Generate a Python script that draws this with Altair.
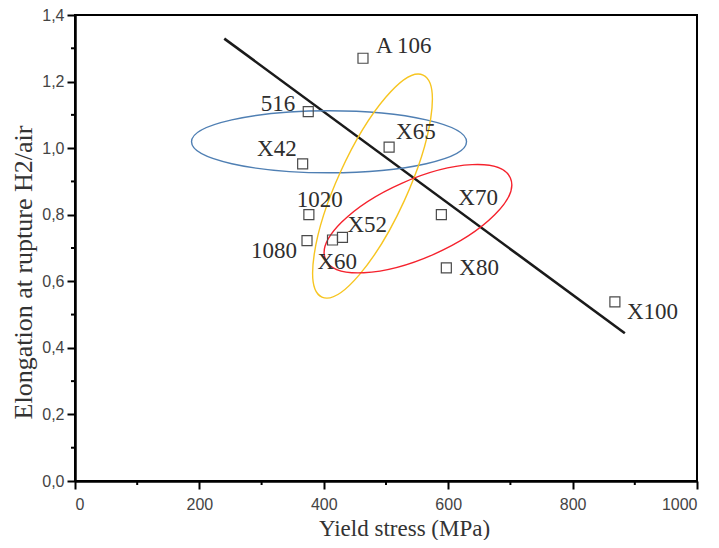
import altair as alt
import pandas as pd

# ---- data ----
labels = ["A 106", "516", "X42", "X65", "1020", "1080", "X60", "X52", "X70", "X80", "X100"]
yield_stress = [463, 375, 366, 505, 376, 373, 414, 430, 589, 597, 868]
elongation = [1.27, 1.11, 0.953, 1.003, 0.80, 0.722, 0.724, 0.732, 0.80, 0.64, 0.538]

trend_x = [240, 884]
trend_y = [1.329, 0.444]

ellipse_names = ["blue", "yellow", "red"]
ellipse_cx = [408.4, 478.3, 551.4]
ellipse_cy = [1.019, 0.886, 0.788]

x_ticks = [0, 200, 400, 600, 800, 1000]
x_minor = [100, 300, 500, 700, 900]
y_ticks = [0.0, 0.2, 0.4, 0.6, 0.8, 1.0, 1.2, 1.4]
y_minor = [0.1, 0.3, 0.5, 0.7, 0.9, 1.1, 1.3]

# ---- styling (label placement, ellipse geometry) ----
label_style = {
    "A 106": ("left", 13, -12),
    "516": ("right", -13, -8),
    "X42": ("right", -6, -15),
    "X65": ("left", 7, -15),
    "1020": ("center", 11, -15),
    "1080": ("right", -10, 10),
    "X60": ("left", -15, 22),
    "X52": ("left", 5, -12),
    "X70": ("left", 17, -17),
    "X80": ("left", 13, 0),
    "X100": ("left", 12, 10),
}


def ellipse_path(rx, ry):
    return (f"M {-rx} 0 A {rx} {ry} 0 1 0 {rx} 0 "
            f"A {rx} {ry} 0 1 0 {-rx} 0 Z")


ellipse_style = {
    "blue": (ellipse_path(137.5, 31), 0, "#4f7fb3"),
    "yellow": (ellipse_path(35, 122), 24.5, "#f7c520"),
    "red": (ellipse_path(101, 39), 336.2, "#f5222d"),
}

W, H = 622, 466
SERIF = "Liberation Serif"

pts = pd.DataFrame({"label": labels, "x": yield_stress, "y": elongation})
trend = pd.DataFrame({"x": trend_x, "y": trend_y})
ell = pd.DataFrame({"name": ellipse_names, "x": ellipse_cx, "y": ellipse_cy})

xscale = alt.Scale(domain=[0, 1000], nice=False, zero=False)
yscale = alt.Scale(domain=[0, 1.4], nice=False, zero=False)

x_axis = alt.Axis(
    values=x_ticks, format="d", title="Yield stress (MPa)",
    titleX=329, titleY=54, titleBaseline="alphabetic", titleAlign="center",
    titleFont=SERIF, titleFontSize=23, labelPadding=7,
)
y_axis = alt.Axis(
    values=y_ticks, labelExpr="replace(format(datum.value, '.1f'), '.', ',')",
    title="Elongation at rupture H2/air", titleFont=SERIF, titleFontSize=26,
    titleX=-52, titleY=257, titleBaseline="middle", titleAlign="center",
    labelPadding=3,
)

X = alt.X("x:Q", scale=xscale, axis=x_axis)
Y = alt.Y("y:Q", scale=yscale, axis=y_axis)

base_pts = alt.Chart(pts)

points = base_pts.mark_point(
    shape="square", size=100, filled=False, stroke="#4a4a4a",
    strokeWidth=1.2, opacity=1,
).encode(x=X, y=Y)

line = alt.Chart(trend).mark_line(color="#1a1a1a", strokeWidth=2.6).encode(x=X, y=Y)

layers = [line]

for name in ellipse_names:
    path, ang, col = ellipse_style[name]
    layers.append(
        alt.Chart(ell).transform_filter(alt.datum.name == name).mark_point(
            shape=path, size=4, angle=ang, filled=False, stroke=col,
            strokeWidth=1.4, opacity=1,
        ).encode(x=X, y=Y)
    )

layers.append(points)

for lab in labels:
    align, dx, dy = label_style[lab]
    layers.append(
        base_pts.transform_filter(alt.datum.label == lab).mark_text(
            align=align, baseline="middle", dx=dx, dy=dy,
            font=SERIF, fontSize=23, color="#2e2e2e",
        ).encode(x=X, y=Y, text="label:N")
    )

minor_x = alt.Chart(pd.DataFrame({"x": x_minor})).mark_rule(
    color="black", strokeWidth=2
).encode(x=X, y=alt.value(H), y2=alt.value(H + 4))
minor_y = alt.Chart(pd.DataFrame({"y": y_minor})).mark_rule(
    color="black", strokeWidth=2
).encode(y=Y, x=alt.value(0), x2=alt.value(-4))
layers += [minor_x, minor_y]

chart = alt.layer(*layers).properties(
    width=W, height=H,
    autosize=alt.AutoSizeParams(type="none"),
    padding={"left": 67, "top": 7, "right": 14, "bottom": 59},
).configure_view(
    stroke="black", strokeWidth=2,
).configure_axis(
    grid=False,
    domainColor="black", domainWidth=2.5,
    tickColor="black", tickWidth=2, tickSize=8,
    labelFont="Liberation Sans", labelFontSize=16, labelColor="#444444",
    titleFont=SERIF, titleFontSize=23, titleFontWeight="normal",
    titleColor="#333333", labelPadding=5,
)

chart.save("out.html", embed_options={"renderer": "svg", "actions": False})
